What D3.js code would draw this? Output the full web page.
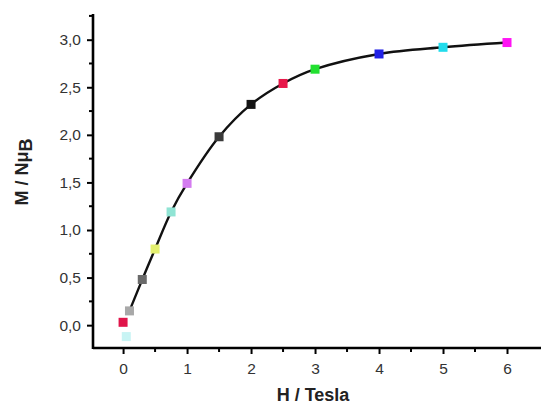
<!DOCTYPE html>
<html>
<head>
<meta charset="utf-8">
<script src="https://cdn.jsdelivr.net/npm/d3@7"></script>
<style>
  body { margin: 0; background: #fff; }
  svg { display: block; font-family: "Liberation Sans", Arial, sans-serif; }
</style>
</head>
<body>
<script>
// field in tesla, magnetisation in N muB
let fieldH = [0.05, 0.0, 0.1, 0.3, 0.5, 0.75, 1.0, 1.5, 2.0, 2.5, 3.0, 4.0, 5.0, 6.0];
let magM = [-0.12, 0.03, 0.15, 0.48, 0.80, 1.19, 1.49, 1.98, 2.32, 2.54, 2.69, 2.85, 2.92, 2.97];
let pointColors = ['#c8f4f4', '#e0144a', '#a8a8a8', '#6a6a6a', '#e4f070', '#90e4d4', '#d47cf0',
                   '#3a3a3a', '#141414', '#e8184a', '#22e030', '#2222e6', '#22dcec', '#ff14f4'];
let xTicks = [0, 1, 2, 3, 4, 5, 6];
let yTicks = [0, 0.5, 1.0, 1.5, 2.0, 2.5, 3.0];

var width = 541, height = 407;
var svg = d3.select('body').append('svg')
    .attr('width', width)
    .attr('height', height);

var xScale = d3.scaleLinear()
    .domain([-0.47, 6.5])
    .range([93, 539]);
var yScale = d3.scaleLinear()
    .domain([-0.24, 3.27])
    .range([348, 14]);

var fmt = function(d) { return d3.format('.1f')(d).replace('.', ','); };

// curve through the measured points (starts at the small-field point)
let pts = fieldH.map((h, i) => [h, magM[i]]).slice(2);
var line = d3.line()
    .x(d => xScale(d[0]))
    .y(d => yScale(d[1]))
    .curve(d3.curveCatmullRom.alpha(0.5));
svg.append('path')
    .datum(pts)
    .attr('fill', 'none')
    .attr('stroke', '#111')
    .attr('stroke-width', 2.4)
    .attr('d', line);

// square markers
let ms = 9;
svg.append('g').selectAll('rect')
    .data(fieldH)
    .join('rect')
    .attr('x', (d, i) => xScale(d) - ms / 2)
    .attr('y', (d, i) => yScale(magM[i]) - ms / 2)
    .attr('width', ms)
    .attr('height', ms)
    .attr('fill', (d, i) => pointColors[i]);

// axes
var xAxis = d3.axisBottom(xScale)
    .tickValues(xTicks)
    .tickSize(6)
    .tickPadding(9)
    .tickFormat(d3.format('d'));
var yAxis = d3.axisLeft(yScale)
    .tickValues(yTicks)
    .tickSize(6)
    .tickPadding(6)
    .tickFormat(fmt);

var gx = svg.append('g')
    .attr('transform', 'translate(0,348)')
    .call(xAxis);
var gy = svg.append('g')
    .attr('transform', 'translate(93,0)')
    .call(yAxis);

// minor ticks
let xMinor = d3.range(-0.5, 6.5, 0.5).filter(v => v > -0.47 && !xTicks.includes(v));
let yMinor = d3.range(-0.25, 3.26, 0.25).filter(v => v > -0.24 && !yTicks.includes(v));
gx.selectAll('.minor').data(xMinor).join('line')
    .attr('class', 'minor')
    .attr('x1', d => xScale(d)).attr('x2', d => xScale(d))
    .attr('y1', 0).attr('y2', 4);
gy.selectAll('.minor').data(yMinor).join('line')
    .attr('class', 'minor')
    .attr('y1', d => yScale(d)).attr('y2', d => yScale(d))
    .attr('x1', 0).attr('x2', -4);

[gx, gy].forEach(g => {
    g.select('.domain').attr('stroke', '#000').attr('stroke-width', 2.6);
    g.selectAll('line').attr('stroke', '#000').attr('stroke-width', 2);
    g.selectAll('text')
        .attr('font-family', '"Liberation Sans", Arial, sans-serif')
        .attr('font-size', 15.5)
        .attr('fill', '#333');
});
gx.select('.domain').attr('d', 'M' + xScale(-0.47) + ',0H' + 541);
gy.select('.domain').attr('d', 'M0,' + yScale(3.27) + 'V' + 349);

// axis titles
svg.append('text')
    .attr('x', 313)
    .attr('y', 401)
    .attr('text-anchor', 'middle')
    .attr('font-size', 18)
    .attr('font-weight', 'bold')
    .attr('fill', '#222')
    .text('H / Tesla');

var yt = svg.append('text')
    .attr('transform', 'translate(28,172) rotate(-90)')
    .attr('text-anchor', 'middle')
    .attr('font-size', 18)
    .attr('font-weight', 'bold')
    .attr('fill', '#222');
yt.append('tspan').text('M / Nμ');
yt.append('tspan').attr('dy', 4).text('B');
</script>
</body>
</html>
